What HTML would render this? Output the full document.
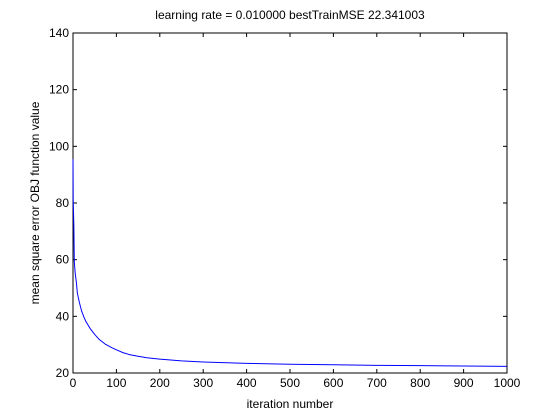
<!DOCTYPE html>
<html><head><meta charset="utf-8"><style>
body{margin:0;background:#fff;}
svg{display:block;font-family:"Liberation Sans",sans-serif;}
</style></head><body>
<svg id="chart" width="560" height="420" xmlns="http://www.w3.org/2000/svg">
<rect width="560" height="420" fill="#fff"/>
<rect x="73" y="33" width="434" height="340" fill="#fff" stroke="#000" stroke-width="1"/>
<g id="ticks"></g>
<path id="line" fill="none" stroke="#0000ff" stroke-width="1"/>
<text x="290" y="19" text-anchor="middle" font-size="12">learning rate = 0.010000 bestTrainMSE 22.341003</text>
<text x="290" y="408" text-anchor="middle" font-size="12">iteration number</text>
<text transform="translate(39,203) rotate(-90)" text-anchor="middle" font-size="12">mean square error OBJ function value</text>
</svg>
<script>
const iterations=[0,0.5,2,3,5,8,10,15,20,25,30,40,50,60,75,90,100,115,130,150,170,200,250,300,400,500,600,700,800,900,1000];
const mseValues=[95.5,81,71.6,59.3,55.3,51.7,48.2,44.7,41.8,39.8,38.1,35.6,33.6,31.9,30.1,28.9,28.2,27.2,26.5,25.9,25.4,24.9,24.3,23.9,23.4,23.1,22.9,22.7,22.6,22.45,22.34];
const xTicks=[0,100,200,300,400,500,600,700,800,900,1000];
const yTicks=[20,40,60,80,100,120,140];
const L=73,R=507,T=33,B=373;
const xs=v=>L+(v-0)/1000*(R-L);
const ys=v=>B-(v-20)/120*(B-T);
const ns="http://www.w3.org/2000/svg";
const g=document.getElementById('ticks');
function mk(tag,attrs){const e=document.createElementNS(ns,tag);for(const k in attrs)e.setAttribute(k,attrs[k]);return e;}
xTicks.forEach(t=>{
  const x=xs(t);
  const a=mk('line',{x1:x,x2:x,y1:B,y2:B-4,stroke:'#000'});
  
  
  g.appendChild(a);
  const b=mk('line',{x1:x,x2:x,y1:T,y2:T+4,stroke:'#000'});
  
  
  g.appendChild(b);
  const tx=mk('text',{x:x,y:B+14,'text-anchor':'middle','font-size':12});
  tx.textContent=t;
  
  
  g.appendChild(tx);
});
yTicks.forEach(t=>{
  const y=ys(t);
  const a=mk('line',{x1:L,x2:L+4,y1:y,y2:y,stroke:'#000'});
  
  
  g.appendChild(a);
  const b=mk('line',{x1:R,x2:R-4,y1:y,y2:y,stroke:'#000'});
  
  
  g.appendChild(b);
  const tx=mk('text',{x:L-4,y:y+4,'text-anchor':'end','font-size':12});
  tx.textContent=t;
  
  
  g.appendChild(tx);
});
document.getElementById('line').setAttribute('d',iterations.map((v,i)=>(i?'L':'M')+xs(v).toFixed(2)+','+ys(mseValues[i]).toFixed(2)).join(''));
</script>
</body></html>
